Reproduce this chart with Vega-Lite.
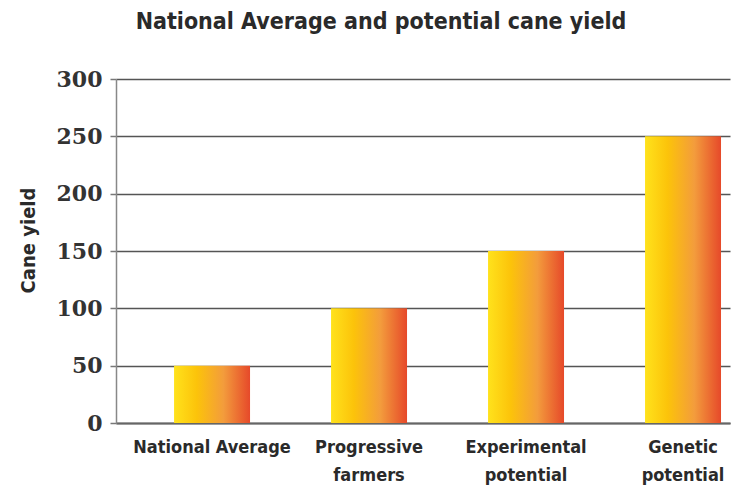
{
  "$schema": "https://vega.github.io/schema/vega-lite/v6.json",
  "width": 614,
  "height": 344,
  "autosize": {"type": "none"},
  "padding": {"left": 116, "top": 79, "right": 14, "bottom": 68},
  "background": "white",
  "title": {
    "text": "National Average and potential cane yield",
    "font": "DejaVu Sans Condensed",
    "fontWeight": "bold",
    "fontSize": 23,
    "color": "#2a2a2a",
    "anchor": "middle",
    "dx": -42,
    "offset": 34
  },
  "data": {
    "values": [
      {"category": "National Average", "yield": 50},
      {"category": "Progressive farmers", "yield": 100},
      {"category": "Experimental potential", "yield": 150},
      {"category": "Genetic potential", "yield": 250}
    ]
  },
  "mark": {
    "type": "bar",
    "color": {
      "gradient": "linear",
      "x1": 0, "y1": 0, "x2": 1, "y2": 0,
      "stops": [
        {"offset": 0, "color": "#ffe21c"},
        {"offset": 0.3, "color": "#fcc30a"},
        {"offset": 0.65, "color": "#f39c3c"},
        {"offset": 1, "color": "#e6492a"}
      ]
    },
    "strokeWidth": 0
  },
  "encoding": {
    "x": {
      "field": "category",
      "type": "nominal",
      "sort": null,
      "scale": {"paddingInner": 0.516, "paddingOuter": 0.2135, "align": 0.866},
      "axis": {
        "title": null,
        "labelAngle": 0,
        "labelExpr": "datum.value == 'National Average' ? datum.value : split(datum.value, ' ')",
        "labelFont": "DejaVu Sans Condensed",
        "labelFontWeight": "bold",
        "labelFontSize": 18,
        "labelColor": "#2a2a2a",
        "labelLineHeight": 28,
        "labelPadding": 15,
        "ticks": false,
        "domainColor": "#666666",
        "domainWidth": 2
      }
    },
    "y": {
      "field": "yield",
      "type": "quantitative",
      "scale": {"domain": [0, 300], "nice": false},
      "axis": {
        "title": "Cane yield",
        "titleFont": "DejaVu Sans Condensed",
        "titleFontWeight": "bold",
        "titleFontSize": 20,
        "titleColor": "#2a2a2a",
        "titleAngle": -90,
        "titleBaseline": "middle",
        "titleAlign": "center",
        "titleX": -88,
        "titleY": 161,
        "values": [0, 50, 100, 150, 200, 250, 300],
        "labelFont": "DejaVu Serif",
        "labelFontWeight": "bold",
        "labelFontSize": 22,
        "labelColor": "#333333",
        "labelPadding": 8,
        "tickSize": 6,
        "tickColor": "#777777",
        "tickWidth": 1.5,
        "domainColor": "#888888",
        "domainWidth": 1.5,
        "grid": true,
        "gridColor": "#555555",
        "gridWidth": 1.5
      }
    }
  },
  "config": {
    "view": {"stroke": null}
  }
}
